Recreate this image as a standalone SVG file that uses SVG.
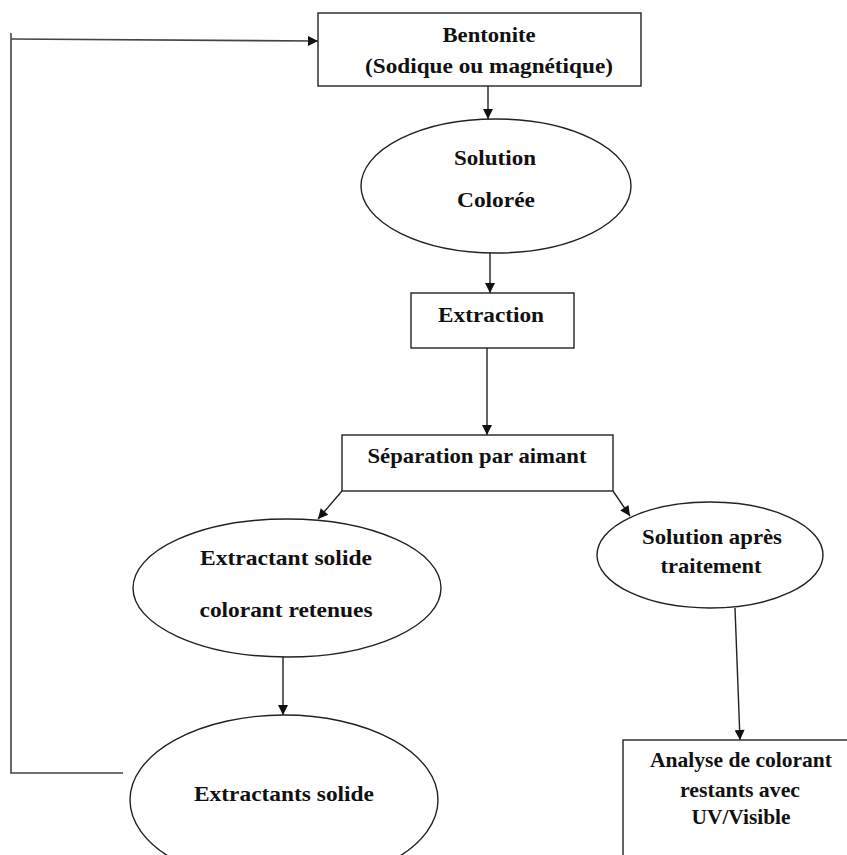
<svg xmlns="http://www.w3.org/2000/svg" width="847" height="855" viewBox="0 0 847 855">
<style>
.shape{fill:#fff;stroke:#222;stroke-width:1.4}
.conn{fill:none;stroke:#222;stroke-width:1.4}
.fb{fill:none;stroke:#444;stroke-width:1.6}
text{font-family:"Liberation Serif","Times New Roman",serif;font-weight:bold;font-size:22px;fill:#111;text-anchor:middle}
</style>
<defs>
<marker id="arr" viewBox="0 0 10 10" refX="10" refY="5" markerWidth="13" markerHeight="10" markerUnits="userSpaceOnUse" orient="auto">
<path d="M0,0 L10,5 L0,10 Z" fill="#111"/>
</marker>
</defs>
<g id="connectors">
<path class="fb" d="M123,773 H11 V33"/>
<path class="fb" d="M11,39 L318,41" marker-end="url(#arr)"/>
<path class="conn" d="M488,86 V119" marker-end="url(#arr)"/>
<path class="conn" d="M490,253 V293" marker-end="url(#arr)"/>
<path class="conn" d="M487,348 V435" marker-end="url(#arr)"/>
<path class="conn" d="M342,491 L318,519" marker-end="url(#arr)"/>
<path class="conn" d="M613,491 L630,516" marker-end="url(#arr)"/>
<path class="conn" d="M735,608 L740,740" marker-end="url(#arr)"/>
<path class="conn" d="M283,657 V715" marker-end="url(#arr)"/>
</g>
<g id="bentonite">
<rect class="shape" x="318" y="13" width="323" height="73"/>
<text x="489" y="42" textLength="93" lengthAdjust="spacingAndGlyphs">Bentonite</text>
<text x="489" y="73" textLength="248" lengthAdjust="spacingAndGlyphs">(Sodique ou magnétique)</text>
</g>
<g id="solution-coloree">
<ellipse class="shape" cx="496" cy="186" rx="135" ry="67"/>
<text x="495" y="165" textLength="82" lengthAdjust="spacingAndGlyphs">Solution</text>
<text x="496" y="207" textLength="78" lengthAdjust="spacingAndGlyphs">Colorée</text>
</g>
<g id="extraction">
<rect class="shape" x="411" y="293" width="163" height="55"/>
<text x="491" y="322" textLength="106" lengthAdjust="spacingAndGlyphs">Extraction</text>
</g>
<g id="separation">
<rect class="shape" x="342" y="435" width="271" height="56"/>
<text x="477" y="463" textLength="219" lengthAdjust="spacingAndGlyphs">Séparation par aimant</text>
</g>
<g id="extractant-colorant">
<ellipse class="shape" cx="287" cy="588" rx="154" ry="69"/>
<text x="286" y="565" textLength="172" lengthAdjust="spacingAndGlyphs">Extractant solide</text>
<text x="286" y="617" textLength="173" lengthAdjust="spacingAndGlyphs">colorant retenues</text>
</g>
<g id="solution-apres">
<ellipse class="shape" cx="710" cy="555" rx="113" ry="53"/>
<text x="712" y="544" textLength="140" lengthAdjust="spacingAndGlyphs">Solution après</text>
<text x="711" y="573" textLength="101" lengthAdjust="spacingAndGlyphs">traitement</text>
</g>
<g id="extractants-solide">
<ellipse class="shape" cx="284" cy="800" rx="154" ry="85"/>
<text x="284" y="801" textLength="180" lengthAdjust="spacingAndGlyphs">Extractants solide</text>
</g>
<g id="analyse">
<rect class="shape" x="623" y="740" width="240" height="130"/>
<text x="741" y="767" textLength="182" lengthAdjust="spacingAndGlyphs">Analyse de colorant</text>
<text x="740" y="797" textLength="120" lengthAdjust="spacingAndGlyphs">restants avec</text>
<text x="741" y="824" textLength="99" lengthAdjust="spacingAndGlyphs">UV/Visible</text>
</g>
</svg>
